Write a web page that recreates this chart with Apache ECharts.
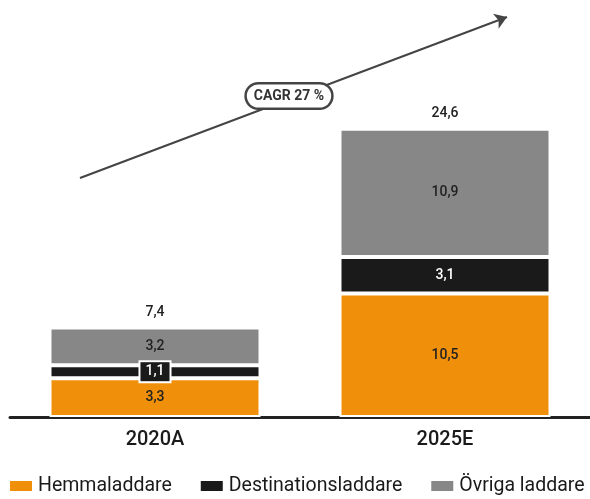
<!DOCTYPE html>
<html><head><meta charset="utf-8">
<script src="https://cdn.jsdelivr.net/npm/echarts@6/dist/echarts.min.js"></script>
<style>html,body{margin:0;padding:0;background:#fff}#c{width:590px;height:499px}</style>
</head><body><div id="c"></div>
<script>
const categories = ['2020A', '2025E'];
const hemma = [3.3, 10.5];
const destination = [1.1, 3.1];
const ovriga = [3.2, 10.9];
const totals = [7.4, 24.6];
const seriesNames = ['Hemmaladdare', 'Destinationsladdare', 'Övriga laddare'];
const cagrText = 'CAGR 27 %';

const FONT = 'Roboto';
const fmt = v => String(v).replace('.', ',');
const chart = echarts.init(document.getElementById('c'), null, {renderer: 'canvas'});
const baseLabel = {show: true, position: 'inside', fontFamily: FONT, fontSize: 14, fontWeight: 500,
  formatter: p => fmt(p.value)};
chart.setOption({
  animation: false,
  grid: {left: 10, width: 588, top: 64, bottom: 82},
  legend: {
    bottom: -2, left: 3, itemWidth: 24, itemHeight: 12, itemGap: 27, icon: 'rect',
    data: seriesNames,
    textStyle: {fontFamily: FONT, fontSize: 19.5, color: '#1a1a1a'}
  },
  xAxis: {
    type: 'category', data: categories,
    axisLine: {lineStyle: {color: '#222', width: 3}},
    axisTick: {show: false},
    axisLabel: {fontFamily: FONT, fontSize: 20, fontWeight: 500, color: '#1a1a1a', margin: 13}
  },
  yAxis: {type: 'value', min: 0, max: 30, show: false, splitLine: {show: false}},
  series: [
    {name: seriesNames[0], type: 'bar', stack: 's', data: hemma, barWidth: 211,
     itemStyle: {color: '#F0900A', borderColor: '#fff', borderWidth: 2},
     label: Object.assign({}, baseLabel, {color: '#222'})},
    {name: seriesNames[1], type: 'bar', stack: 's',
     itemStyle: {color: '#1a1a1a', borderColor: '#fff', borderWidth: 2},
     label: Object.assign({}, baseLabel, {color: '#fff'}),
     data: destination.map((v, i) => i === 0 ? {value: v, label: {backgroundColor: '#1a1a1a', borderColor: '#fff', borderWidth: 2, padding: [3, 5, 2, 5]}} : v)},
    {name: seriesNames[2], type: 'bar', stack: 's', data: ovriga,
     itemStyle: {color: '#878787', borderColor: '#fff', borderWidth: 2},
     label: Object.assign({}, baseLabel, {color: '#222'})},
    {name: 'total', type: 'bar', stack: 's', data: totals.map(() => 0),
     itemStyle: {color: 'transparent'},
     label: {show: true, position: 'top', distance: 8, fontFamily: FONT, fontSize: 14, fontWeight: 500, color: '#222',
       formatter: p => fmt(totals[p.dataIndex])},
     markLine: {
       silent: true, symbolSize: 12,
       lineStyle: {color: '#444', width: 2, type: 'solid'},
       label: {show: false},
       data: [[{x: 80, y: 178, symbol: 'none'}, {x: 507, y: 17, symbol: 'arrow'}]]
     }}
  ],
  graphic: [{
    type: 'text', x: 289, y: 96, z: 100,
    style: {text: cagrText, fontFamily: FONT, fontSize: 14, fontWeight: 'bold', fill: '#333',
      align: 'center', verticalAlign: 'middle', backgroundColor: '#fff', borderColor: '#444',
      borderWidth: 2.5, borderRadius: 12, padding: [5, 7, 4, 7]}
  }]
});
</script></body></html>
